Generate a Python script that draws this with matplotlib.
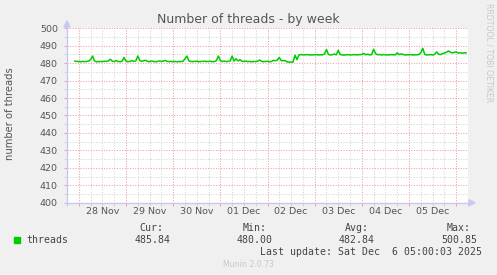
import matplotlib
matplotlib.use("Agg")
import matplotlib.pyplot as plt
import numpy as np
from matplotlib.patches import Polygon, Rectangle
from matplotlib.lines import Line2D

# ---------------- data ----------------
# hourly averages, hours relative to 28 Nov 00:00 (starting at -2 h)
start_hour = -2
threads = [
    481.2, 481.0,
    # 28 Nov
    481.0, 480.8, 481.0, 480.9, 481.0, 481.2, 482.0, 484.1, 481.3, 480.8, 480.9, 481.0,
    480.9, 481.1, 481.0, 481.3, 482.2, 481.2, 480.9, 481.5, 481.0, 480.8, 481.1, 483.3,
    # 29 Nov
    481.2, 480.9, 481.0, 481.5, 481.0, 481.3, 484.1, 481.6, 481.0, 481.4, 481.7, 481.0,
    480.9, 481.2, 481.0, 480.8, 481.0, 481.3, 481.0, 481.2, 481.6, 481.0, 480.9, 481.0,
    # 30 Nov
    480.9, 481.0, 480.8, 481.0, 480.9, 481.1, 482.5, 484.1, 481.3, 481.0, 480.9, 481.0,
    481.2, 480.8, 481.0, 481.0, 481.2, 480.9, 481.0, 481.1, 480.8, 481.0, 481.5, 484.1,
    # 01 Dec
    481.5, 481.0, 481.2, 480.9, 481.0, 481.3, 484.1, 481.2, 482.5, 481.3, 482.0, 481.1,
    481.0, 481.2, 480.9, 481.0, 480.8, 481.0, 480.9, 481.2, 481.8, 481.0, 480.9, 481.0,
    # 02 Dec
    481.1, 480.8, 481.0, 481.6, 481.4, 481.8, 483.3, 481.5, 481.4, 481.5, 480.7, 480.6,
    480.6, 480.7, 484.6, 482.0, 484.8, 484.9, 484.8, 484.8, 484.9, 484.8, 484.7, 484.8,
    # 03 Dec
    484.8, 484.9, 484.7, 484.8, 484.8, 485.3, 487.8, 485.0, 484.7, 484.9, 485.2, 484.8,
    487.4, 484.9, 484.8, 484.6, 484.8, 484.9, 484.7, 484.8, 484.9, 484.8, 484.8, 484.9,
    # 04 Dec
    485.0, 485.6, 484.8, 485.2, 484.7, 485.0, 488.0, 485.5, 484.8, 485.0, 484.7, 484.9,
    484.8, 484.7, 484.8, 484.9, 484.8, 484.8, 485.9, 484.9, 485.3, 485.0, 484.7, 484.8,
    # 05 Dec
    484.8, 484.9, 484.7, 484.8, 484.8, 485.0, 486.0, 488.5, 485.0, 484.7, 484.8, 484.9,
    484.7, 485.0, 486.5, 485.2, 484.9, 485.5, 485.8, 486.2, 487.0, 486.3, 485.9, 486.2,
    # 06 Dec
    486.5, 485.8, 486.0, 485.7, 485.9, 485.9,
]
day_labels = ["28 Nov", "29 Nov", "30 Nov", "01 Dec", "02 Dec", "03 Dec", "04 Dec", "05 Dec"]
y_ticks = [400, 410, 420, 430, 440, 450, 460, 470, 480, 490, 500]
stat_names = ["Cur:", "Min:", "Avg:", "Max:"]
stat_values = ["485.84", "480.00", "482.84", "500.85"]
series_name = "threads"
title = "Number of threads - by week"
ylabel = "number of threads"
last_update = "Last update: Sat Dec  6 05:00:03 2025"

# ---------------- figure ----------------
W, H = 497, 275
fig = plt.figure(figsize=(W / 100, H / 100), dpi=100, facecolor="#F0F0F0")

def fx(px):
    return px / W

def fy(py):
    return 1 - py / H

ax_l, ax_r, ax_t, ax_b = 67, 468, 28.3, 202.7
ax = fig.add_axes([fx(ax_l), fy(ax_b), (ax_r - ax_l) / W, (ax_b - ax_t) / H])
ax.set_facecolor("white")

hours = np.arange(len(threads)) + start_hour
ax.set_xlim(-2.35, 197.7)
ax.set_ylim(400, 500)

major_c = "#F0A0A0"
minor_c = "#D4D4D4"
axis_c = "#C8C8F4"
text_c = "#555555"

day_bounds = np.arange(0, 24 * 9, 24)
six_h = [h for h in np.arange(-6, 200, 6) if h % 24 != 0]
ax.set_xticks(day_bounds)
ax.set_xticks(six_h, minor=True)
ax.set_yticks(y_ticks)
ax.set_yticks(np.arange(405, 500, 10), minor=True)
ax.set_xticklabels([])
ax.set_yticklabels([str(v) for v in y_ticks])

ax.grid(which="minor", color=minor_c, linestyle=(0, (1, 1.5)), linewidth=0.75)
ax.grid(which="major", color=major_c, linestyle=(0, (1, 1.5)), linewidth=0.75)
ax.set_axisbelow(True)

ax.tick_params(axis="y", which="major", length=2, width=0.75, color=major_c,
               labelsize=6.8, labelcolor=text_c, pad=4.5)
ax.tick_params(axis="y", which="minor", length=2, width=0.75, color=minor_c)
ax.tick_params(axis="x", which="major", length=2.5, width=0.75, color=major_c)
ax.tick_params(axis="x", which="minor", length=2.5, width=0.75, color=minor_c)

for s in ax.spines.values():
    s.set_visible(False)

ax.plot(hours, threads, color="#00CC00", linewidth=1.1, zorder=3, clip_on=False)

# day labels centred at noon
for i, lab in enumerate(day_labels):
    ax.text(24 * i + 12, -0.05, lab, transform=ax.get_xaxis_transform(),
            ha="center", va="center", fontsize=6.8, color=text_c)

# axis lines with arrowheads (figure pixel coordinates)
fig.add_artist(Line2D([fx(ax_l), fx(ax_l)], [fy(ax_b + 2), fy(24)],
                      color=axis_c, linewidth=1.0))
fig.add_artist(Line2D([fx(ax_l - 2), fx(472)], [fy(ax_b), fy(ax_b)],
                      color=axis_c, linewidth=1.0))
fig.add_artist(Polygon([[fx(ax_l - 3), fy(27)], [fx(ax_l + 3), fy(27)], [fx(ax_l), fy(21)]],
                       closed=True, color=axis_c, transform=fig.transFigure))
fig.add_artist(Polygon([[fx(469), fy(ax_b - 3)], [fx(469), fy(ax_b + 3)], [fx(475), fy(ax_b)]],
                       closed=True, color=axis_c, transform=fig.transFigure))

# title and labels
fig.text(fx(248), fy(19), title, ha="center", va="center", fontsize=9.0, color=text_c)
fig.text(fx(10.5), fy(114), ylabel, ha="center", va="center", rotation=90,
         fontsize=7.2, color=text_c)
fig.text(fx(488.5), fy(53), "RRDTOOL / TOBI OETIKER", ha="center", va="center",
         rotation=270, fontsize=5.6, color="#C8C8C8")

# legend
fig.add_artist(Rectangle((fx(14), fy(243)), 6 / W, 6 / H, color="#00CC00",
                         transform=fig.transFigure))
mono = dict(family="DejaVu Sans Mono", fontsize=7.1, color="#444444")
fig.text(fx(26.5), fy(240), series_name, ha="left", va="center", **mono)
name_right = [163.5, 266.5, 368.5, 470.5]
val_right = [170.5, 273, 375, 477]
for n, v, xn, xv in zip(stat_names, stat_values, name_right, val_right):
    fig.text(fx(xn), fy(228), n, ha="right", va="center", **mono)
    fig.text(fx(xv), fy(240), v, ha="right", va="center", **mono)
fig.text(fx(482.5), fy(252), last_update, ha="right", va="center", **mono)
fig.text(fx(248), fy(264.5), "Munin 2.0.73", ha="center", va="center",
         fontsize=5.6, color="#C8C8C8")

fig.savefig("out.png", dpi=100, facecolor=fig.get_facecolor())
